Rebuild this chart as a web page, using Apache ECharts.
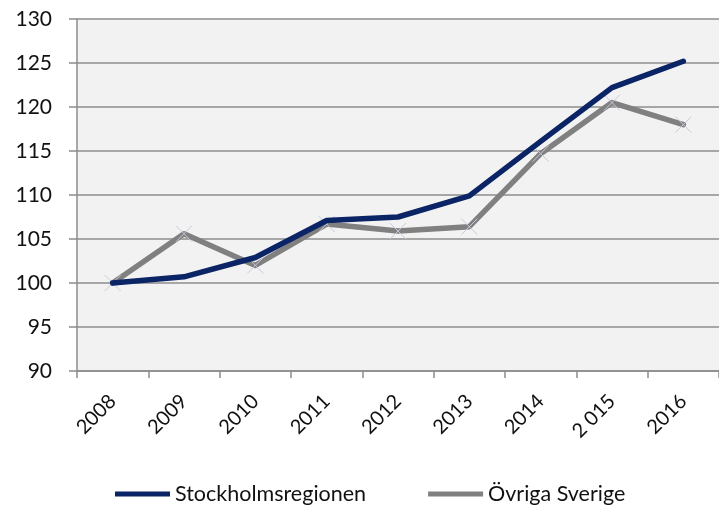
<!DOCTYPE html>
<html>
<head>
<meta charset="utf-8">
<script src="https://cdn.jsdelivr.net/npm/echarts@6/dist/echarts.min.js"></script>
<style>
  html, body { margin: 0; padding: 0; background: #fff; }
  #chart { width: 719px; height: 505px; }
</style>
</head>
<body>
<div id="chart"></div>
<script>
var years = ['2008', '2009', '2010', '2011', '2012', '2013', '2014', '2 015', '2016']
var stockholm = [100, 100.7, 102.9, 107.1, 107.5, 109.9, 116.1, 122.2, 125.2]
var ovriga = [100, 105.6, 102.0, 106.7, 105.9, 106.4, 114.7, 120.5, 118.0]
var yTicks = [90, 95, 100, 105, 110, 115, 120, 125, 130]

var font = 'Lato, "Open Sans", sans-serif'
var gridColor = '#8c8c8c'

var chart = echarts.init(document.getElementById('chart'))

chart.setOption({
  backgroundColor: '#fff',
  animation: false,
  grid: {
    left: 77,
    top: 19,
    right: -3,
    bottom: 134,
    show: true,
    backgroundColor: '#f2f2f2',
    borderWidth: 0
  },
  legend: {
    top: 478,
    left: 110,
    itemWidth: 55,
    itemHeight: 5,
    itemGap: 62,
    textStyle: { fontFamily: font, fontSize: 21.5, color: '#111' },
    data: [
      { name: 'Stockholmsregionen', icon: 'rect', itemStyle: { color: '#0a2465', borderWidth: 0 } },
      { name: 'Övriga Sverige', icon: 'rect', itemStyle: { color: '#808080', borderWidth: 0 } }
    ]
  },
  xAxis: {
    type: 'category',
    data: years,
    boundaryGap: true,
    axisLine: { lineStyle: { color: gridColor, width: 1.5 } },
    axisTick: { show: true, length: 7, interval: 0, lineStyle: { color: gridColor, width: 1.5 } },
    axisLabel: {
      interval: 0,
      rotate: 45,
      margin: 27,
      fontFamily: font,
      fontSize: 20,
      color: '#111'
    }
  },
  yAxis: {
    type: 'value',
    min: yTicks[0],
    max: yTicks[yTicks.length - 1],
    interval: 5,
    axisLine: { show: true, lineStyle: { color: gridColor, width: 1.5 } },
    axisTick: { show: true, length: 8, lineStyle: { color: gridColor, width: 1.5 } },
    axisLabel: { margin: 25, fontFamily: font, fontSize: 21, color: '#111' },
    splitLine: { lineStyle: { color: gridColor, width: 1.5 } }
  },
  series: [
    {
      name: 'Stockholmsregionen',
      type: 'line',
      data: stockholm,
      showSymbol: false,
      symbol: 'none',
      z: 3,
      lineStyle: { color: '#0a2465', width: 5.5, cap: 'round', join: 'round' },
      itemStyle: { color: '#0a2465' }
    },
    {
      name: 'Övriga Sverige',
      type: 'line',
      data: ovriga,
      symbol: 'path://M0,0L10,10M10,0L0,10',
      symbolSize: 16,
      z: 2,
      lineStyle: { color: '#808080', width: 5.5, cap: 'round', join: 'round' },
      itemStyle: { color: 'none', borderColor: '#c9c9de', borderWidth: 1 }
    }
  ]
})
</script>
</body>
</html>
